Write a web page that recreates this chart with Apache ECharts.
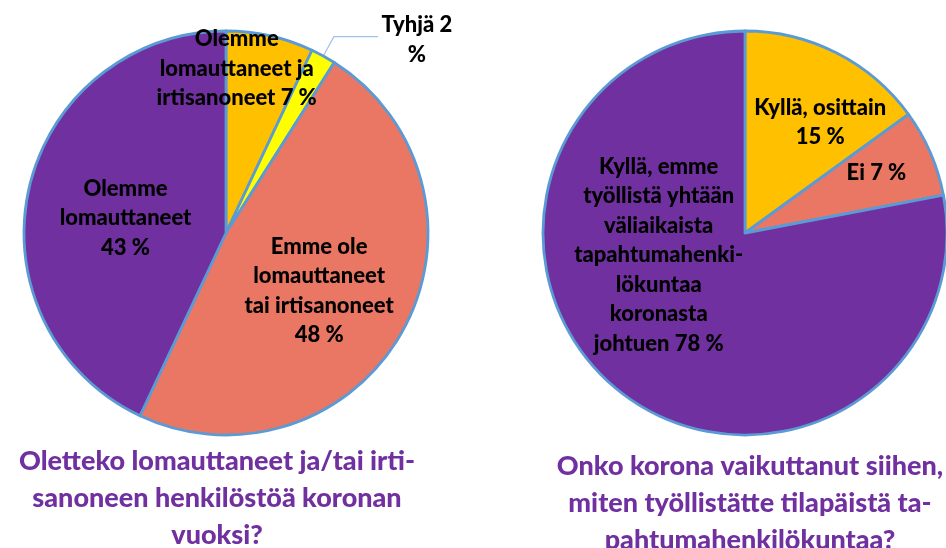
<!DOCTYPE html>
<html><head><meta charset="utf-8">
<script src="https://cdn.jsdelivr.net/npm/echarts@6/dist/echarts.min.js"></script>
<style>html,body{margin:0;padding:0;background:#fff}#c{width:946px;height:548px}</style>
</head><body><div id="c"></div>
<script>
// Left pie
const leftNames = ['Olemme\nlomauttaneet ja\nirtisanoneet', 'Tyhjä', 'Emme ole\nlomauttaneet\ntai irtisanoneet', 'Olemme\nlomauttaneet'];
const leftValues = [7, 2, 48, 43];
const leftSep = [' ', ' ', '\n', '\n'];
const leftColors = ['#FFC000', '#FFFF00', '#EA7664', '#7030A0'];
const leftTitle = 'Oletteko lomauttaneet ja/tai irti-\nsanoneen henkilöstöä koronan\nvuoksi?';
// Right pie
const rightNames = ['Kyllä, osittain', 'Ei', 'Kyllä, emme\ntyöllistä yhtään\nväliaikaista\ntapahtumahenki-\nlökuntaa\nkoronasta\njohtuen'];
const rightValues = [15, 7, 78];
const rightSep = ['\n', ' ', ' '];
const rightColors = ['#FFC000', '#EA7664', '#7030A0'];
const rightTitle = 'Onko korona vaikuttanut siihen,\nmiten työllistätte tilapäistä ta-\npahtumahenkilökuntaa?';

const FONT = 'Lato';
const leftShift = [[-12, -63], [35, 3], [2, 8], [1, 8]];
const rightShift = [[28, -18], [36, -19], [-20, -58]];

function mkData(names, values, colors, sep) {
  return names.map((n, i) => ({
    name: n, value: values[i], itemStyle: { color: colors[i] },
    label: { formatter: n + sep[i] + values[i] + ' %' }
  }));
}
const leftData = mkData(leftNames, leftValues, leftColors, leftSep);
leftData[1].label = { position: 'outside', formatter: 'Tyhjä ' + leftValues[1] + '\n%', distanceToLabelLine: 4 };
leftData[1].labelLine = { show: true, length: 22, length2: 44, lineStyle: { color: '#9DC3E6', width: 1.2 } };

const labelStyle = { position: 'inside', color: '#000', fontFamily: FONT, fontWeight: 900, fontSize: 22, lineHeight: 29.5, align: 'center' };
const baseSeries = {
  type: 'pie', radius: 202, startAngle: 90, clockwise: true, animation: false,
  itemStyle: { borderColor: '#5B9BD5', borderWidth: 2.8 },
  label: labelStyle, labelLine: { show: false }, emphasis: { disabled: true }
};
const chart = echarts.init(document.getElementById('c'), null, { renderer: 'canvas' });
chart.setOption({
  backgroundColor: '#fff',
  title: [
    { text: leftTitle, left: 212, top: 438, textAlign: 'center',
      textStyle: { color: '#7030A0', fontFamily: FONT, fontWeight: 900, fontSize: 27, lineHeight: 37 } },
    { text: rightTitle, left: 745, top: 443, textAlign: 'center',
      textStyle: { color: '#7030A0', fontFamily: FONT, fontWeight: 900, fontSize: 27, lineHeight: 37 } }
  ],
  series: [
    Object.assign({}, baseSeries, {
      center: [226, 233], data: leftData,
      labelLayout: p => p.dataIndex === 1 ? { align: 'center', dx: leftShift[1][0], dy: leftShift[1][1] } : { dx: leftShift[p.dataIndex][0], dy: leftShift[p.dataIndex][1] }
    }),
    Object.assign({}, baseSeries, {
      center: [745, 233], data: mkData(rightNames, rightValues, rightColors, rightSep),
      labelLayout: p => ({ dx: rightShift[p.dataIndex][0], dy: rightShift[p.dataIndex][1] })
    })
  ]
});
</script></body></html>
